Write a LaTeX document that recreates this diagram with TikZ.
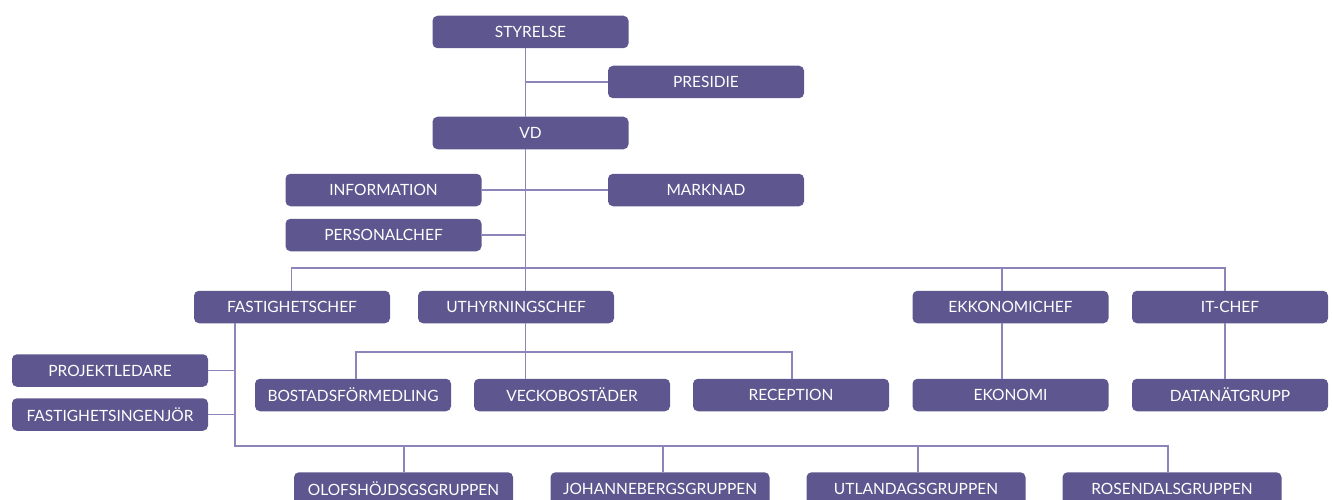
\documentclass[tikz,border=0pt]{standalone}
\usepackage{fontspec}
\setmainfont{Lato}
\definecolor{boxc}{RGB}{94,87,143}
\definecolor{linec}{RGB}{140,133,185}
\begin{document}
\begin{tikzpicture}[x=1pt,y=-1pt,
  box/.style={fill=boxc,rounded corners=5pt,text=white,minimum width=196pt,minimum height=32.5pt,inner sep=0pt,font=\fontsize{15.5}{18}\selectfont},
  wbox/.style={box,minimum width=219pt},
  conn/.style={draw=linec,line width=1.2pt}]
\useasboundingbox (0,0) rectangle (1332,500);
% coordinates for connector lines
\coordinate (t) at (525.5,268);
\coordinate (bL) at (291.5,268);
\coordinate (bE) at (1002,268);
\coordinate (bR) at (1225,268);
\coordinate (fx) at (235,446);
\coordinate (gR) at (1168,446);
\coordinate (uL) at (356,352);
\coordinate (uR) at (792,352);
% nodes
\node[box] (sty) at (530.5,32) {STYRELSE};
\node[box] (pres) at (706,82) {PRESIDIE};
\node[box] (vd) at (530.5,133) {VD};
\node[box] (info) at (383.5,190) {INFORMATION};
\node[box] (mark) at (706,190) {MARKNAD};
\node[box] (pers) at (383.5,235) {PERSONALCHEF};
\node[box] (fchef) at (292,307) {FASTIGHETSCHEF};
\node[box] (uchef) at (516,307) {UTHYRNINGSCHEF};
\node[box] (echef) at (1010.5,307) {EKKONOMICHEF};
\node[box] (itchef) at (1230,307) {IT-CHEF};
\node[box] (proj) at (110,370.5) {PROJEKTLEDARE};
\node[box] (fing) at (110,414.5) {FASTIGHETSINGENJÖR};
\node[box] (bost) at (353,395) {BOSTADSFÖRMEDLING};
\node[box] (vecko) at (572,395) {VECKOBOSTÄDER};
\node[box] (recep) at (791,395) {RECEPTION};
\node[box] (ekon) at (1010.5,395) {EKONOMI};
\node[box] (data) at (1230,395) {DATANÄTGRUPP};
\node[wbox] (olof) at (403.5,488.5) {OLOFSHÖJDSGSGRUPPEN};
\node[wbox] (johan) at (660,488.5) {JOHANNEBERGSGRUPPEN};
\node[wbox] (utl) at (916,488.5) {UTLANDAGSGRUPPEN};
\node[wbox] (ros) at (1172,488.5) {ROSENDALSGRUPPEN};
% connectors
\draw[conn] (sty.south -| t) -- (vd.north -| t);
\draw[conn] (pres.west -| t) -- (pres.west);
\draw[conn] (vd.south -| t) -- (uchef.north -| t);
\draw[conn] (info.east) -- (mark.west);
\draw[conn] (pers.east) -- (pers.east -| t);
\draw[conn] (fchef.north -| bL) -- (bL) -- (bR) -- (itchef.north -| bR);
\draw[conn] (bE) -- (echef.north -| bE);
\draw[conn] (echef.south -| bE) -- (ekon.north -| bE);
\draw[conn] (itchef.south -| bR) -- (data.north -| bR);
\draw[conn] (bost.north -| uL) -- (uL) -- (uR) -- (recep.north -| uR);
\draw[conn] (uchef.south -| t) -- (vecko.north -| t);
\draw[conn] (fchef.south -| fx) -- (fx) -- (gR) -- (ros.north -| gR);
\draw[conn] (proj.east) -- (proj.east -| fx);
\draw[conn] (fing.east) -- (fing.east -| fx);
\draw[conn] (olof.north -| 404,0) -- (404,446);
\draw[conn] (johan.north -| 663,0) -- (663,446);
\draw[conn] (utl.north -| 918,0) -- (918,446);
\end{tikzpicture}
\end{document}
